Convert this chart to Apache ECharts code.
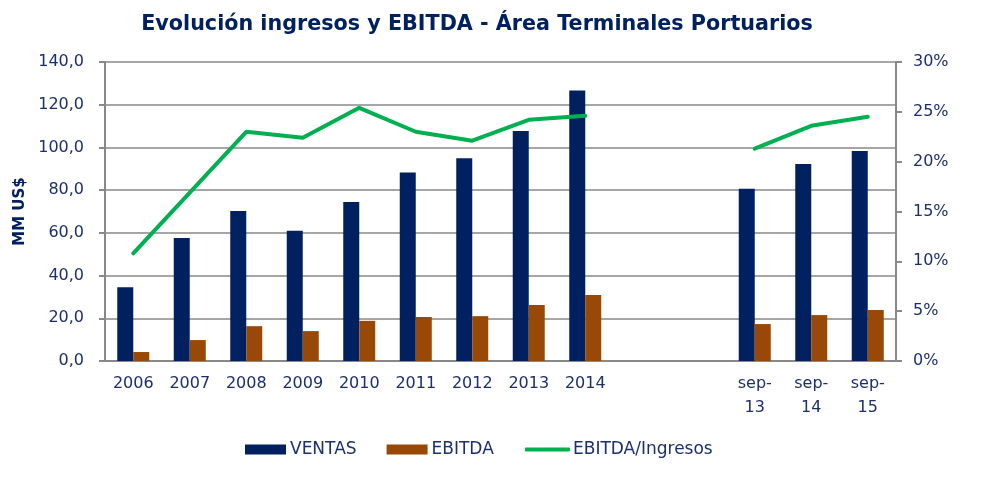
<!DOCTYPE html>
<html><head><meta charset="utf-8">
<script src="https://cdn.jsdelivr.net/npm/echarts@6/dist/echarts.min.js"></script>
<style>html,body{margin:0;padding:0;background:#fff}#c{width:982px;height:489px}</style>
</head><body><div id="c"></div>
<script>
const categories = ['2006','2007','2008','2009','2010','2011','2012','2013','2014','','','sep-\n13','sep-\n14','sep-\n15'];
const ventas = [34.5, 57.6, 70.2, 61.0, 74.4, 88.3, 94.9, 107.7, 126.7, null, null, 80.7, 92.2, 98.3];
const ebitda = [4.2, 9.8, 16.3, 14.0, 18.8, 20.6, 21.0, 26.2, 30.9, null, null, 17.3, 21.5, 23.9];
const ratio = [10.8, 16.9, 23.0, 22.4, 25.4, 23.0, 22.1, 24.2, 24.6, null, null, 21.3, 23.6, 24.5];
const txt = '#1B2F6B';
const font = 'DejaVu Sans';
const chart = echarts.init(document.getElementById('c'));
chart.setOption({
  animation: false,
  title: {text: 'Evolución ingresos y EBITDA - Área Terminales Portuarios', left: 472, textAlign: 'center', top: 9,
    textStyle: {fontFamily: font, fontSize: 20.7, fontWeight: 'bold', color: '#002060'}},
  legend: [
    {left: 240, top: 436, itemWidth: 41, itemHeight: 10, itemGap: 30,
     textStyle: {fontFamily: font, fontSize: 17, color: txt, padding: [0,0,0,-1]},
     data: [{name:'VENTAS', icon:'rect'}, {name:'EBITDA', icon:'rect'}]},
    {left: 520, top: 436, itemWidth: 45, itemHeight: 4,
     textStyle: {fontFamily: font, fontSize: 17, color: txt, padding: [0,0,0,-2]},
     data: [{name:'EBITDA/Ingresos', icon:'roundRect'}]}
  ],
  grid: {left: 105, right: 86, top: 62, bottom: 128},
  xAxis: {type: 'category', data: categories,
    axisLine: {lineStyle: {color: '#888', width: 2}},
    axisTick: {length: 6, lineStyle: {color: '#888', width: 2}},
    axisLabel: {fontFamily: font, fontSize: 16, color: txt, margin: 11, lineHeight: 24, interval: 0}},
  yAxis: [
    {type: 'value', min: 0, max: 140, interval: 20, name: 'MM US$', nameLocation: 'middle', nameGap: 76, nameRotate: 90,
     nameTextStyle: {fontFamily: font, fontSize: 15, fontWeight: 'bold', color: '#002060'},
     axisLine: {show: true, lineStyle: {color: '#888', width: 2}},
     axisTick: {show: true, length: 6, lineStyle: {color: '#888', width: 2}},
     splitLine: {lineStyle: {color: '#888', width: 1.5}},
     axisLabel: {fontFamily: font, fontSize: 16, color: txt, margin: 21, formatter: v => v.toFixed(1).replace('.', ',')}},
    {type: 'value', min: 0, max: 30, interval: 5,
     axisLine: {show: true, lineStyle: {color: '#888', width: 2}},
     axisTick: {show: true, length: 6, lineStyle: {color: '#888', width: 2}},
     splitLine: {show: false},
     axisLabel: {fontFamily: font, fontSize: 16, color: txt, margin: 17, formatter: '{value}%'}}
  ],
  series: [
    {name: 'VENTAS', type: 'bar', data: ventas, barWidth: 16, barGap: '0%', itemStyle: {color: '#002060'}},
    {name: 'EBITDA', type: 'bar', data: ebitda, barWidth: 16, barGap: '0%', itemStyle: {color: '#984807'}},
    {name: 'EBITDA/Ingresos', type: 'line', yAxisIndex: 1, data: ratio, symbol: 'none', connectNulls: false,
     lineStyle: {color: '#00B050', width: 4, cap: 'round'}, itemStyle: {color: '#00B050'}}
  ]
});
</script></body></html>
